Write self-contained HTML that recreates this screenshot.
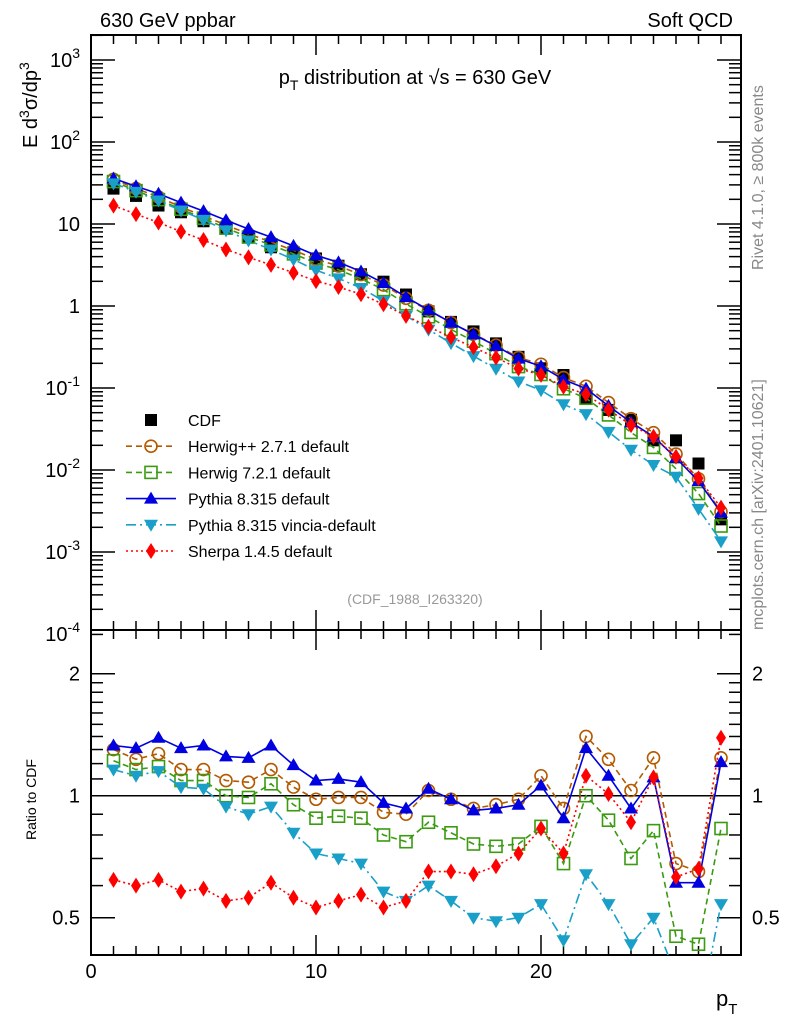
<!DOCTYPE html>
<html><head><meta charset="utf-8"><style>
body{margin:0;background:#fff;}
svg{display:block;font-family:"Liberation Sans",sans-serif;}
</style></head><body>
<svg id="chart" width="786" height="1024" viewBox="0 0 786 1024" xmlns="http://www.w3.org/2000/svg">
<g id="axes"></g>
<g id="marks"></g>
<text x="100" y="27" font-size="20">630 GeV ppbar</text>
<text x="733" y="27" font-size="20" text-anchor="end">Soft QCD</text>
<text x="415" y="84" font-size="20" text-anchor="middle">p<tspan font-size="14" dy="6">T</tspan><tspan dy="-6"> distribution at √s = 630 GeV</tspan></text>
<text transform="translate(37,148) rotate(-90)" font-size="20">E  d<tspan font-size="14" dy="-8">3</tspan><tspan dy="8">σ/dp</tspan><tspan font-size="14" dy="-8">3</tspan></text>
<text transform="translate(36,840) rotate(-90)" font-size="14">Ratio to CDF</text>
<text transform="translate(763,270) rotate(-90)" font-size="16" fill="#888">Rivet 4.1.0, ≥ 800k events</text>
<text transform="translate(763,630) rotate(-90)" font-size="16" fill="#888">mcplots.cern.ch [arXiv:2401.10621]</text>
<text x="415" y="604" font-size="14" fill="#999" text-anchor="middle">(CDF_1988_I263320)</text>
<text x="716" y="1006" font-size="22">p<tspan font-size="15" dy="8">T</tspan></text>
</svg>
<script>
const pt=[1,2,3,4,5,6,7,8,9,10,11,12,13,14,15,16,17,18,19,20,21,22,23,24,25,26,27,28];
const cdf=[27,22,16.8,13.9,10.8,8.9,7.0,5.2,4.55,3.8,3.1,2.44,1.98,1.38,0.86,0.64,0.49,0.35,0.24,0.174,0.144,0.075,0.054,0.041,0.023,0.023,0.012,0.0025];
const rHerwigpp=[1.30,1.23,1.27,1.16,1.16,1.09,1.08,1.16,1.05,0.98,0.99,0.99,0.91,0.90,1.03,0.98,0.93,0.95,0.98,1.12,0.93,1.40,1.23,1.03,1.24,0.68,0.65,1.24];
const rHerwig7=[1.22,1.16,1.18,1.09,1.09,1.0,0.99,1.07,0.95,0.88,0.89,0.88,0.80,0.77,0.86,0.81,0.76,0.75,0.76,0.84,0.68,1.0,0.87,0.70,0.82,0.45,0.43,0.83];
const rPythia=[1.33,1.31,1.39,1.31,1.33,1.25,1.24,1.33,1.19,1.09,1.10,1.08,0.96,0.93,1.04,0.98,0.92,0.93,0.95,1.06,0.88,1.31,1.12,0.93,1.11,0.61,0.61,1.21];
const rVincia=[1.16,1.12,1.15,1.05,1.04,0.94,0.90,0.94,0.81,0.72,0.70,0.68,0.58,0.55,0.60,0.55,0.50,0.49,0.50,0.54,0.44,0.64,0.54,0.43,0.50,0.36,0.28,0.54];
const rSherpa=[0.62,0.60,0.62,0.58,0.59,0.55,0.56,0.61,0.56,0.53,0.55,0.57,0.53,0.55,0.65,0.65,0.64,0.67,0.72,0.83,0.72,1.12,1.01,0.86,1.11,0.63,0.66,1.39];
const xTicks=[0,10,20];
const yTopExp=[3,2,1,0,-1,-2,-3,-4];
const ratioTicks=[2,1,0.5];

const NS="http://www.w3.org/2000/svg";
const L=91,R=741,T1=35,B1=630,T2=630,B2=955;
const X=v=>L+v*22.5;
const Y1=v=>306-82*Math.log10(v);
const Y2=v=>795.7-122*Math.log2(v);
const axes=document.getElementById('axes'),marks=document.getElementById('marks');
function mk(tag,at,parent){const e=document.createElementNS(NS,tag);for(const k in at)e.setAttribute(k,at[k]);(parent||marks).appendChild(e);return e;}

let f=mk('rect',{x:L,y:T1,width:R-L,height:B1-T1,fill:'none',stroke:'#000','stroke-width':2},axes);


f=mk('rect',{x:L,y:T2,width:R-L,height:B2-T2,fill:'none',stroke:'#000','stroke-width':2},axes);



for(let i=0;i<=28;i++){const x=X(i);const big=i%10===0;const len=big?20:9;
 [[T1,1],[T2,1],[B1,-1],[B2,-1]].forEach(([y,d])=>{const t=mk('line',{x1:x,x2:x,y1:y,y2:y+d*len,stroke:'#000','stroke-width':1.5},axes);
 
 });}
xTicks.forEach(v=>{const t=mk('text',{x:X(v),y:978,'font-size':20,'text-anchor':'middle'},axes);t.textContent=v;
 
 });

for(let e=-4;e<=3;e++){for(let m=1;m<10;m++){const v=m*Math.pow(10,e);const y=Y1(v);if(y<T1||y>B1)continue;const len=m===1?24:12;
 [[L,1],[R,-1]].forEach(([x,d])=>{const t=mk('line',{x1:x,x2:x+d*len,y1:y,y2:y,stroke:'#000','stroke-width':1.5},axes);
 
 });}}
yTopExp.forEach(e=>{const y=Y1(Math.pow(10,e))+7;const t=mk('text',{x:80,y:y,'font-size':20,'text-anchor':'end'},axes);
 if(e===0)t.textContent='1';else if(e===1)t.textContent='10';else{t.textContent='10';const s=mk('tspan',{dy:-9,'font-size':14},t);s.textContent=e;}
 
 });

for(let v=0.4;v<=2.5;v+= (v<2?0.1:0.5)){v=Math.round(v*10)/10;const y=Y2(v);if(y<T2||y>B2)continue;const big=(v===0.5||v===1||v===2);const len=big?24:12;
 [[L,1],[R,-1]].forEach(([x,d])=>{const t=mk('line',{x1:x,x2:x+d*len,y1:y,y2:y,stroke:'#000','stroke-width':1.5},axes);
 
 });}
ratioTicks.forEach(v=>{[[80,'end'],[752,'start']].forEach(([x,a])=>{const t=mk('text',{x:x,y:Y2(v)+7,'font-size':20,'text-anchor':a},axes);t.textContent=v;
 
 });});
const one=mk('line',{x1:L,x2:R,y1:Y2(1),y2:Y2(1),stroke:'#000','stroke-width':1.5},axes);



function marker(type,x,y,c,g){let e;
 if(type==='sq')e=mk('rect',{x:x-6,y:y-6,width:12,height:12,fill:'#000'},g);
 else if(type==='circ')e=mk('circle',{cx:x,cy:y,r:6,fill:'none',stroke:c,'stroke-width':1.6},g);
 else if(type==='osq')e=mk('rect',{x:x-6,y:y-6,width:12,height:12,fill:'none',stroke:c,'stroke-width':1.6},g);
 else if(type==='tri')e=mk('polygon',{points:`${x},${y-7} ${x-7},${y+5} ${x+7},${y+5}`,fill:c},g);
 else if(type==='itri')e=mk('polygon',{points:`${x},${y+7} ${x-7},${y-5} ${x+7},${y-5}`,fill:c},g);
 else e=mk('polygon',{points:`${x},${y-8} ${x-5},${y} ${x},${y+8} ${x+5},${y}`,fill:c},g);
 return e;}

const series=[
 {n:'herwigpp',r:rHerwigpp,c:'#b35900',m:'circ',d:'6,4',label:'Herwig++ 2.7.1 default'},
 {n:'herwig7',r:rHerwig7,c:'#3a9a10',m:'osq',d:'6,4',label:'Herwig 7.2.1 default'},
 {n:'pythia',r:rPythia,c:'#0000e0',m:'tri',d:'',label:'Pythia 8.315 default'},
 {n:'vincia',r:rVincia,c:'#1aa0c8',m:'itri',d:'10,4,2,4',label:'Pythia 8.315 vincia-default'},
 {n:'sherpa',r:rSherpa,c:'#ff0000',m:'dia',d:'2,3',label:'Sherpa 1.4.5 default'}];

const defs=mk('defs',{},marks);
const cp=mk('clipPath',{id:'rclip'},defs);mk('rect',{x:L,y:T2,width:R-L,height:B2-T2},cp);

const cg=mk('g',{});
pt.forEach((p,i)=>{const e=marker('sq',X(p),Y1(cdf[i]),'#000',cg);
 
 });
series.forEach(s=>{
 const g=mk('g',{});
 const vals=pt.map((p,i)=>cdf[i]*s.r[i]);
 const pl=mk('polyline',{points:pt.map((p,i)=>X(p)+','+Y1(vals[i])).join(' '),fill:'none',stroke:s.c,'stroke-width':1.6,'stroke-dasharray':s.d},g);
 
 
 pt.forEach((p,i)=>{const e=marker(s.m,X(p),Y1(vals[i]),s.c,g);
  
  });
 const rg=mk('g',{'clip-path':'url(#rclip)'});
 const rl=mk('polyline',{points:pt.map((p,i)=>X(p)+','+Y2(s.r[i])).join(' '),fill:'none',stroke:s.c,'stroke-width':1.6,'stroke-dasharray':s.d},rg);
 
 
 pt.forEach((p,i)=>{const e=marker(s.m,X(p),Y2(s.r[i]),s.c,rg);
  
  });
});

const lg=mk('g',{});
const entries=[{m:'sq',c:'#000',d:null,label:'CDF'}].concat(series);
entries.forEach((s,k)=>{const y=420+k*26.2;
 const eg=mk('g',{},lg);
 if(s.d!==null)mk('line',{x1:126,x2:176,y1:y,y2:y,stroke:s.c,'stroke-width':1.6,'stroke-dasharray':s.d},eg);
 marker(s.m,151,y,s.c,eg);
 const t=mk('text',{x:188,y:y+6,'font-size':16},eg);t.textContent=s.label;});
</script>
</body></html>
